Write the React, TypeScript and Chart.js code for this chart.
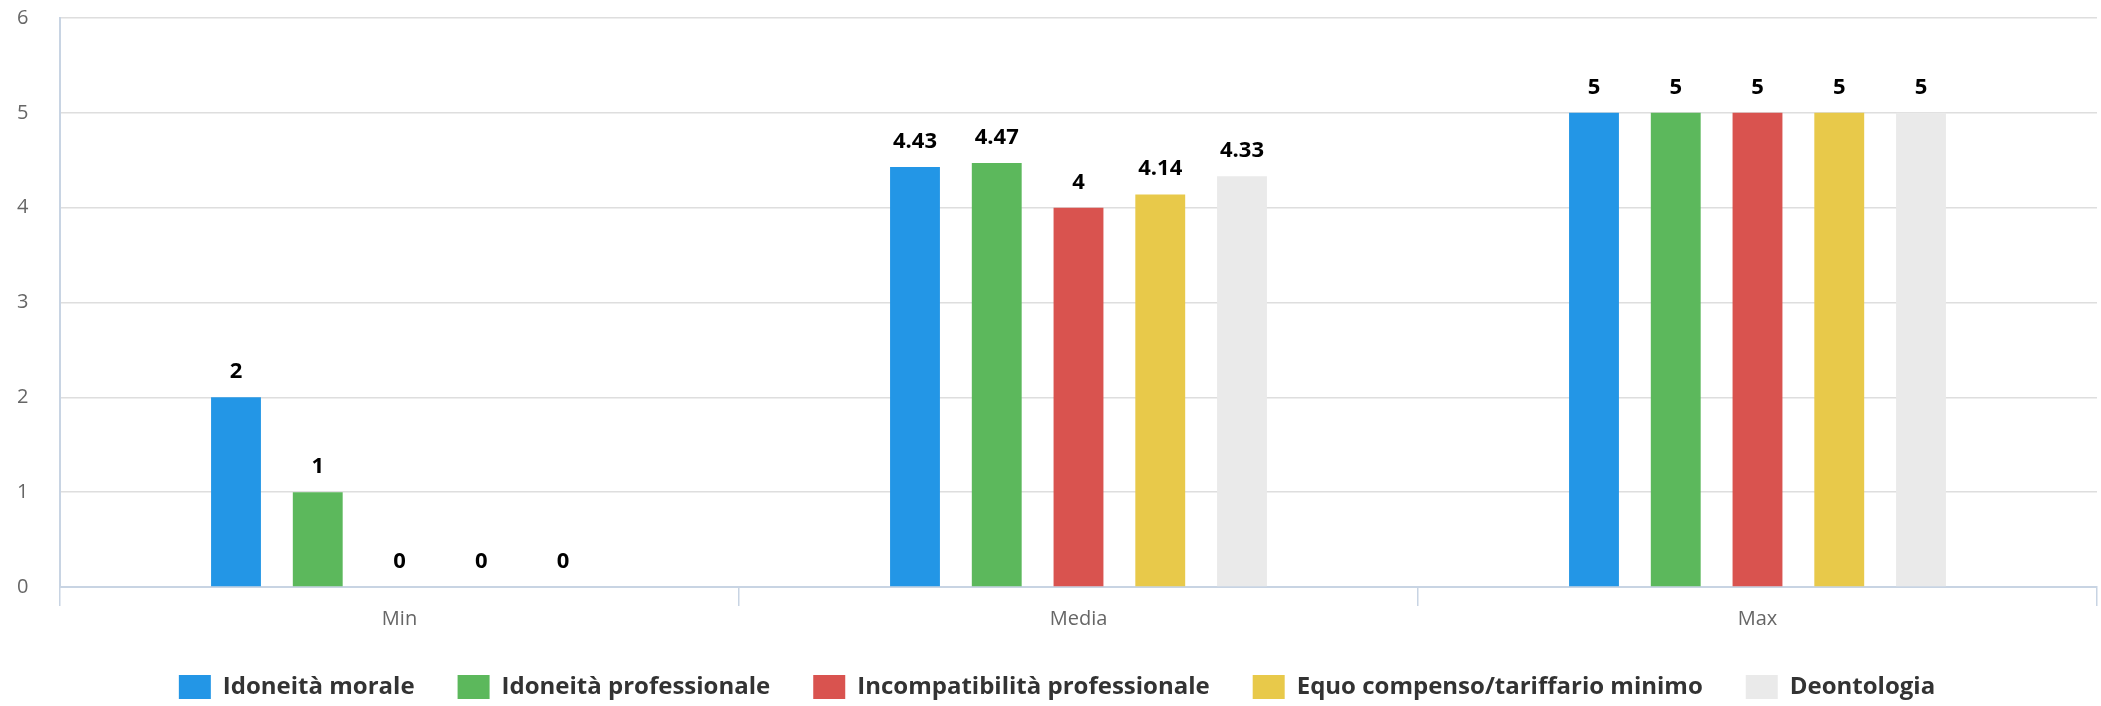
import React, { useEffect, useRef } from "react";
import { Chart, registerables } from "chart.js";

Chart.register(...registerables);

const categories = ["Min", "Media", "Max"];
const seriesNames = [
  "Idoneità morale",
  "Idoneità professionale",
  "Incompatibilità professionale",
  "Equo compenso/tariffario minimo",
  "Deontologia",
];
const idoneitaMorale = [2, 4.43, 5];
const idoneitaProfessionale = [1, 4.47, 5];
const incompatibilitaProfessionale = [0, 4, 5];
const equoCompenso = [0, 4.14, 5];
const deontologia = [0, 4.33, 5];
const seriesColors = ["#2396e6", "#5cb85c", "#d9534f", "#e8c94a", "#eaeaea"];
const yTickValues = [0, 1, 2, 3, 4, 5, 6];

const FONT = "'Open Sans', 'Noto Sans', sans-serif";

const valueLabels = {
  id: "valueLabels",
  afterDatasetsDraw(chart: any) {
    const ctx = chart.ctx;
    ctx.save();
    ctx.font = `bold 22px ${FONT}`;
    ctx.fillStyle = "#000000";
    ctx.textAlign = "center";
    ctx.textBaseline = "alphabetic";
    chart.data.datasets.forEach((ds: any, di: number) => {
      const meta = chart.getDatasetMeta(di);
      if (meta.hidden) return;
      meta.data.forEach((el: any, i: number) => {
        const v = ds.data[i];
        ctx.fillText(String(v), el.x, el.y - 19);
      });
    });
    ctx.restore();
  },
};

const legendShift = {
  id: "legendShift",
  beforeLayout(chart: any) {
    const lg = chart.legend;
    if (lg && !lg._patched) {
      const orig = lg.fit.bind(lg);
      lg.fit = function () {
        orig();
        this.height -= 3;
      };
      lg._patched = true;
    }
  },
};

export default function App() {
  const ref = useRef<HTMLCanvasElement | null>(null);
  useEffect(() => {
    document.body.style.margin = "0";
    const allData = [
      idoneitaMorale,
      idoneitaProfessionale,
      incompatibilitaProfessionale,
      equoCompenso,
      deontologia,
    ];
    const chart = new Chart(ref.current as HTMLCanvasElement, {
      type: "bar",
      data: {
        labels: categories,
        datasets: seriesNames.map((name, i) => ({
          label: name,
          data: allData[i],
          backgroundColor: seriesColors[i],
          borderWidth: 0,
          barPercentage: 0.61,
          categoryPercentage: 0.602,
        })),
      },
      options: {
        responsive: false,
        devicePixelRatio: 1,
        animation: false,
        layout: { padding: { left: 17, right: 4, top: 18, bottom: 0 } },
        plugins: {
          tooltip: { enabled: false },
          legend: {
            position: "bottom",
            labels: {
              boxWidth: 32,
              boxHeight: 24,
              padding: 43,
              color: "#333333",
              font: { family: FONT, size: 24, weight: "bold", lineHeight: 1 },
            },
          },
        },
        scales: {
          x: {
            grid: {
              offset: true,
              drawOnChartArea: false,
              drawTicks: true,
              tickLength: 19,
              color: "#c8d4e3",
              lineWidth: 1.5,
            },
            border: { color: "#c8d4e3", width: 2 },
            ticks: {
              padding: 1,
              color: "#666666",
              font: { family: FONT, size: 20 },
            },
          },
          y: {
            min: 0,
            max: 6,
            afterBuildTicks: (axis: any) => {
              axis.ticks = yTickValues.map((v) => ({ value: v }));
            },
            afterFit: (axis: any) => {
              axis.width = 43;
            },
            grid: {
              drawTicks: false,
              color: "#dedede",
              lineWidth: 1.5,
            },
            border: { color: "#c8d4e3", width: 2 },
            ticks: {
              padding: 0,
              crossAlign: "far",
              color: "#666666",
              font: { family: FONT, size: 20 },
            },
          },
        },
      },
      plugins: [valueLabels, legendShift],
    } as any);
    return () => chart.destroy();
  }, []);
  return (
    <div style={{ width: 2101, height: 706 }}>
      <canvas ref={ref} width={2101} height={706} style={{ display: "block" }} />
    </div>
  );
}
